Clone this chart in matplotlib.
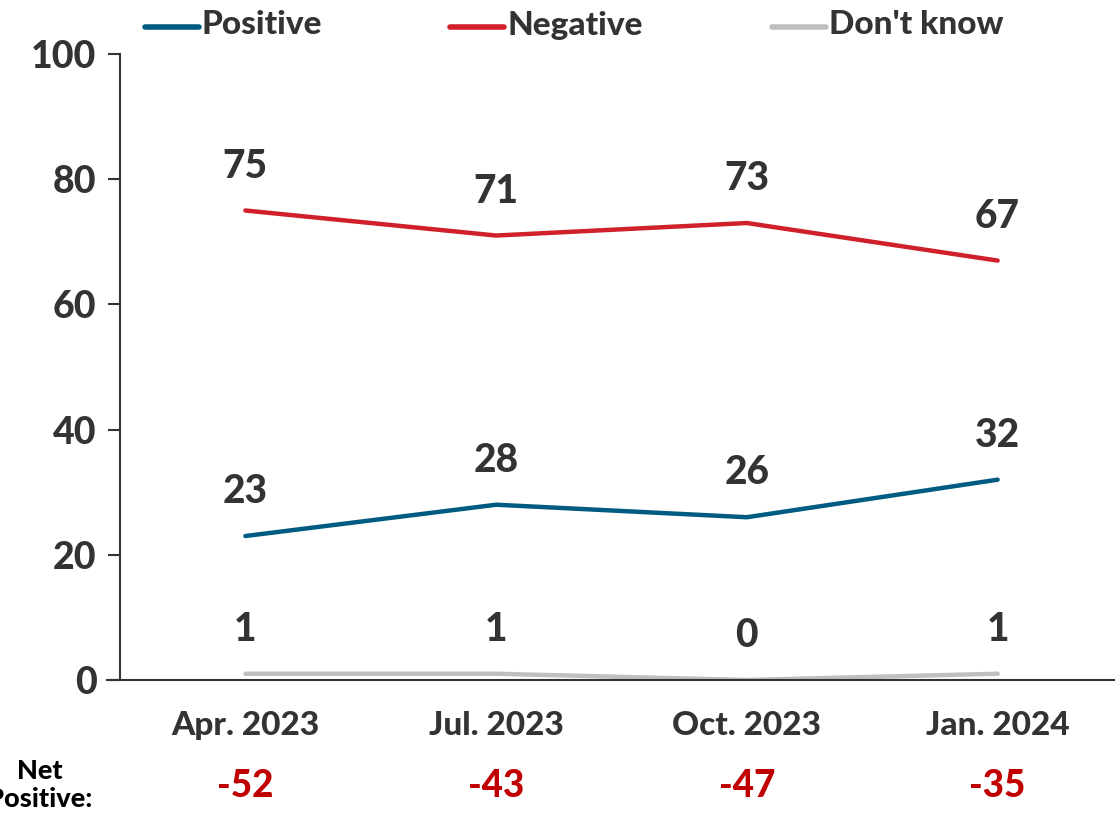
import matplotlib
matplotlib.use("Agg")
import matplotlib.pyplot as plt
from matplotlib import font_manager as fm

periods = ["Apr. 2023", "Jul. 2023", "Oct. 2023", "Jan. 2024"]
positive = [23, 28, 26, 32]
negative = [75, 71, 73, 67]
dont_know = [1, 1, 0, 1]
net_positive = ["-52", "-43", "-47", "-35"]
yticks = [0, 20, 40, 60, 80, 100]

names = {f.name for f in fm.fontManager.ttflist}
FONT = "Lato" if "Lato" in names else "DejaVu Sans"
WT = 900

TXT = "#333333"
C_POS = "#005b82"
C_NEG = "#d0202a"
C_DK = "#bfbfbf"

W, H = 1115, 815
fig = plt.figure(figsize=(W / 100, H / 100), dpi=100)
ax = fig.add_axes([120 / W, (H - 680) / H, 1003 / W, 626 / H])
x = list(range(len(periods)))

ax.plot(x, positive, color=C_POS, lw=3.2, solid_capstyle="round")
ax.plot(x, negative, color=C_NEG, lw=3.2, solid_capstyle="round")
ax.plot(x, dont_know, color=C_DK, lw=3.2, solid_capstyle="round")

for series in (positive, negative, dont_know):
    for xi, v in zip(x, series):
        ax.annotate(str(v), (xi, v), xytext=(0, 32), textcoords="offset points",
                    ha="center", va="center", fontsize=28, fontweight=WT,
                    color=TXT, family=FONT)

ax.set_xlim(-0.5, 3.5)
ax.set_ylim(0, 100)
ax.set_yticks(yticks)
ax.set_yticklabels([str(t) for t in yticks], fontsize=27, fontweight=WT,
                   color=TXT, family=FONT)
ax.set_xticks(x)
ax.set_xticklabels(periods, fontsize=24, fontweight=WT, color=TXT, family=FONT)
ax.tick_params(axis="x", length=0, pad=22)
ax.tick_params(axis="y", length=9, width=1.5, color=TXT, pad=8)
for s in ("top", "right"):
    ax.spines[s].set_visible(False)
for s in ("left", "bottom"):
    ax.spines[s].set_color(TXT)
    ax.spines[s].set_linewidth(1.5)
ax.spines["bottom"].set_bounds(-0.55, 3.6)
ax.spines["bottom"].set_clip_on(False)

# Net positive row
for xi, t in zip(x, net_positive):
    ax.text(xi, -0.170, t, transform=ax.get_xaxis_transform(), ha="center", va="center",
            fontsize=26.5, fontweight=WT, color="#c00000", family=FONT)
fig.text(40 / W, 1 - 785 / H, "Net\nPositive:", ha="center", va="center",
         fontsize=19.5, fontweight=WT, color="black", family=FONT, linespacing=1.2)

# Legend
legend_items = [("Positive", C_POS, 145), ("Negative", C_NEG, 450), ("Don't know", C_DK, 772)]
for label, col, x0 in legend_items:
    fig.add_artist(plt.Line2D([x0 / W, (x0 + 54) / W], [1 - 27 / H, 1 - 27 / H],
                              color=col, lw=4, solid_capstyle="round"))
    fig.text((x0 + 57) / W, 1 - 25 / H, label, ha="left", va="center", fontsize=24,
             fontweight=WT, color=TXT, family=FONT)

fig.savefig("out.png", dpi=100)
